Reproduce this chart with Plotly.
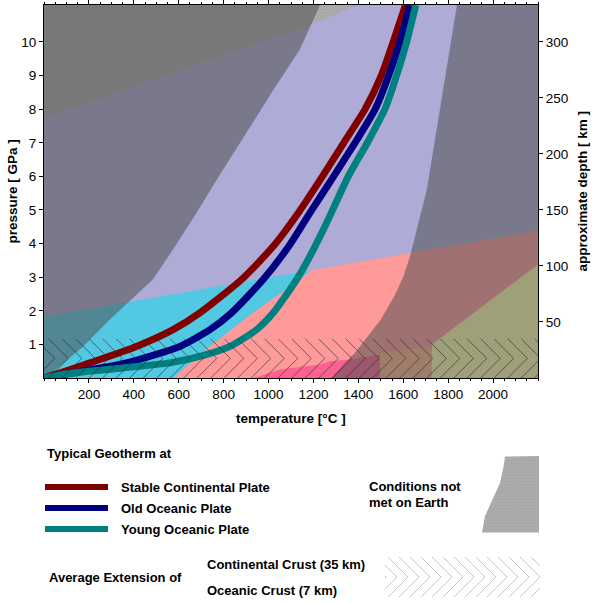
import plotly.graph_objects as go

# ---------------- data ----------------
T_RANGE = [0, 2200]          # temperature [°C]
P_RANGE = [0, 11.1]          # pressure [GPa]
KM_PER_GPA = 30.0            # approximate depth conversion

temp_ticks = [200, 400, 600, 800, 1000, 1200, 1400, 1600, 1800, 2000]
pressure_ticks = [1, 2, 3, 4, 5, 6, 7, 8, 9, 10]
depth_ticks = [50, 100, 150, 200, 250, 300]

# geotherms (temperature °C, pressure GPa)
stable_T = [0, 100, 204, 412, 575, 694, 880, 1021, 1133, 1240, 1335, 1430, 1502, 1555, 1610]
stable_P = [0, 0.21, 0.45, 0.94, 1.44, 1.94, 2.93, 3.92, 4.92, 6.0, 7.0, 8.0, 9.0, 10.0, 11.1]
old_T = [0, 128, 367, 605, 739, 835, 976, 1090, 1185, 1290, 1385, 1475, 1535, 1585, 1630]
old_P = [0, 0.15, 0.45, 0.94, 1.44, 1.94, 2.93, 3.92, 4.92, 6.0, 7.0, 8.0, 9.0, 10.0, 11.1]
young_T = [0, 128, 352, 560, 694, 828, 947, 1021, 1125, 1184, 1259, 1355, 1440, 1518, 1570, 1615, 1656]
young_P = [0, 0.15, 0.3, 0.45, 0.64, 0.94, 1.44, 1.94, 2.93, 3.62, 4.62, 6.0, 7.0, 8.0, 9.0, 10.0, 11.1]

# field boundaries
upper_line_T = [0, 2200]
upper_line_P = [1.82, 4.38]
cyan_salmon_T = [575, 739, 931, 1140, 1190]
cyan_salmon_P = [0, 0.94, 1.94, 2.93, 3.21]
pink_T = [930, 1051, 1229, 1273, 1363, 1497, 1497]
pink_P = [0, 0.25, 0.4, 0.5, 0.55, 0.69, 0]
peach_T = [1497, 1497, 1727, 1727]
peach_P = [0, 0.74, 0.94, 0]
yellow_T = [1727, 1727, 2200, 2200]
yellow_P = [0, 1.0, 3.38, 0]
left_T = [8, 70, 173, 293, 373, 485, 583, 681, 770, 881, 1015, 1140, 1229]
left_P = [0, 0.34, 0.93, 1.74, 2.24, 2.93, 3.91, 4.93, 5.91, 7.1, 8.5, 9.78, 11.1]
right_T = [1280, 1340, 1385, 1430, 1500, 1560, 1601, 1630, 1668, 1705, 1734, 1771, 1809, 1839]
right_P = [0, 0.45, 0.75, 1.14, 1.74, 2.43, 3.03, 3.62, 4.62, 5.61, 6.8, 8.29, 9.78, 11.1]
notmet_T = [0, 1142, 1403]
notmet_P = [7.75, 10.39, 11.1]

continental_crust_km = 35
oceanic_crust_km = 7

# ---------------- layout geometry ----------------
W, H = 592, 604
PL, PR, PT, PB = 44, 538, 5, 378      # plot area in px
FONT = "Liberation Sans, Arial, sans-serif"

C_LAV = "#aeacd6"
C_CYAN = "#52c8e2"
C_SALMON = "#ff9a9a"
C_PINK = "#ff6092"
C_PEACH = "#ffb48a"
C_YELLOW = "#ffffad"
C_NOTMET = "#ababab"
C_SHADE = "rgba(80,80,80,0.55)"
C_RED, C_BLUE, C_TEAL = "#800000", "#000080", "#008080"

fig = go.Figure()


def poly(T, P, color, pattern=None):
    kw = dict(x=T, y=P, mode="lines", fill="toself", fillcolor=color,
              line=dict(width=0, color=color), hoverinfo="skip", showlegend=False)
    if pattern:
        kw["fillpattern"] = pattern
    fig.add_trace(go.Scatter(**kw))


t0, t1 = T_RANGE
p0, p1 = P_RANGE
# base (upper) field
poly([t0, t1, t1, t0], [p0, p0, p1, p1], C_LAV)
# cyan field
poly([t0, t0, cyan_salmon_T[-1]] + cyan_salmon_T[::-1],
     [p0, upper_line_P[0], cyan_salmon_P[-1]] + cyan_salmon_P[::-1], C_CYAN)
# salmon field
poly(cyan_salmon_T + [upper_line_T[1], t1],
     cyan_salmon_P + [upper_line_P[1], p0], C_SALMON)
poly(pink_T, pink_P, C_PINK)
poly(peach_T, peach_P, C_PEACH)
poly(yellow_T, yellow_P, C_YELLOW)
# conditions not met on earth
stipple = dict(shape=".", size=3, solidity=0.25, fgcolor="#9b9b9b", bgcolor=C_NOTMET)
poly(notmet_T + [t0], notmet_P + [p1], C_NOTMET, stipple)
# shaded (outside the band)
poly(left_T + [t0, t0], left_P + [p1, p0], C_SHADE)
poly(right_T + [t1, t1], right_P + [p1, p0], C_SHADE)

# crust hatching (chevrons) on the depth axis
px_per_C = (PR - PL) / (t1 - t0)
px_per_km = (PB - PT) / (p1 * KM_PER_GPA)
C_per_km = px_per_km / px_per_C
step_C = 13.5 / px_per_C
mid_km = continental_crust_km / 2.0
hx, hy = [], []
T = t0 - 400
while T < t1 + 200:
    hx += [T, T + mid_km * C_per_km, T, None]
    hy += [continental_crust_km, mid_km, 0, None]
    T += step_C
fig.add_trace(go.Scatter(x=hx, y=hy, yaxis="y2", mode="lines",
                         line=dict(color="rgba(40,40,40,0.6)", width=1),
                         hoverinfo="skip", showlegend=False))

# geotherms
for Tv, Pv, c in [(stable_T, stable_P, C_RED), (old_T, old_P, C_BLUE), (young_T, young_P, C_TEAL)]:
    fig.add_trace(go.Scatter(x=Tv, y=Pv, mode="lines",
                             line=dict(color=c, width=7, shape="spline", smoothing=0.6),
                             hoverinfo="skip", showlegend=False))

# ---------------- legend area (pixel coordinates on x3/y3) ----------------
def lg_line(x0, x1, y, color):
    fig.add_trace(go.Scatter(x=[x0, x1], y=[y, y], xaxis="x3", yaxis="y3", mode="lines",
                             line=dict(color=color, width=6), hoverinfo="skip", showlegend=False))


lg_line(45, 108, 487, C_RED)
lg_line(45, 108, 508, C_BLUE)
lg_line(45, 108, 529, C_TEAL)

# not-met swatch
sw_x = [505, 539, 539, 482, 485, 493, 500, 503.5, 505]
sw_y = [456.5, 456, 532.5, 532.5, 516, 498, 483, 467, 456.5]
fig.add_trace(go.Scatter(x=sw_x, y=sw_y, xaxis="x3", yaxis="y3", mode="lines", fill="toself",
                         fillcolor=C_NOTMET, fillpattern=stipple, line=dict(width=0, color=C_NOTMET),
                         hoverinfo="skip", showlegend=False))

# crust hatch swatch
bx0, bx1, by0, bym, by1 = 385, 540, 557, 577, 597
lx, ly = [], []


def clip_seg(xa, ya, xb, yb):
    if xa > xb:
        xa, ya, xb, yb = xb, yb, xa, ya
    if xb < bx0 or xa > bx1:
        return
    if xa < bx0:
        ya = ya + (yb - ya) * (bx0 - xa) / (xb - xa)
        xa = bx0
    if xb > bx1:
        yb = ya + (yb - ya) * (bx1 - xa) / (xb - xa)
        xb = bx1
    lx.extend([xa, xb, None])
    ly.extend([ya, yb, None])


xx = bx0 - 30
while xx < bx1 + 5:
    clip_seg(xx, by0, xx + (bym - by0), bym)
    clip_seg(xx + (bym - by0), bym, xx, by1)
    xx += 11
fig.add_trace(go.Scatter(x=lx, y=ly, xaxis="x3", yaxis="y3", mode="lines",
                         line=dict(color="rgba(0,0,0,0.22)", width=1),
                         hoverinfo="skip", showlegend=False))

ann = []


def text(x, y, s, xanchor="left", angle=0, size=13):
    ann.append(dict(x=x, y=y, xref="x3", yref="y3", text="<b>%s</b>" % s, showarrow=False,
                    xanchor=xanchor, yanchor="middle", textangle=angle,
                    font=dict(family=FONT, size=size, color="black")))


text(45, 453, "Typical Geotherm at")
text(119, 487, "Stable Continental Plate")
text(119, 508, "Old Oceanic Plate")
text(119, 529, "Young Oceanic Plate")
text(367, 486, "Conditions not")
text(367, 502, "met on Earth")
text(47, 577, "Average Extension of")
text(205, 564, "Continental Crust (%d km)" % continental_crust_km)
text(205, 590, "Oceanic Crust (%d km)" % oceanic_crust_km)
# axis titles
text((PL + PR) / 2, 418, "temperature [°C ]", xanchor="center", size=13.5)
text(12, (PT + PB) / 2, "pressure [ GPa ]", xanchor="center", angle=-90, size=13.5)
text(582, (PT + PB) / 2, "approximate depth [ km ]", xanchor="center", angle=-90, size=13.5)

tickfont = dict(family=FONT, size=13.5, color="black")
axis_common = dict(showgrid=False, zeroline=False, showline=True, linecolor="black", linewidth=1,
                   ticks="outside", ticklen=4, tickcolor="black", tickfont=tickfont)

fig.update_layout(
    width=W, height=H, margin=dict(l=0, r=0, t=0, b=0),
    paper_bgcolor="white", plot_bgcolor="rgba(0,0,0,0)",
    font=dict(family=FONT, size=13, color="black"),
    annotations=ann,
    xaxis=dict(domain=[PL / W, PR / W], range=T_RANGE, tickvals=temp_ticks, mirror="ticks",
               minor=dict(dtick=50, ticks="outside", ticklen=2, tickcolor="black"),
               anchor="y", **axis_common),
    yaxis=dict(domain=[1 - PB / H, 1 - PT / H], range=P_RANGE, tickvals=pressure_ticks,
               anchor="x", **axis_common),
    yaxis2=dict(overlaying="y", side="right", anchor="x",
                range=[p0 * KM_PER_GPA, p1 * KM_PER_GPA], tickvals=depth_ticks, **axis_common),
    xaxis3=dict(domain=[0, 1], range=[0, W], visible=False, anchor="y3", fixedrange=True),
    yaxis3=dict(domain=[0, 1], range=[H, 0], visible=False, anchor="x3", fixedrange=True),
)

fig.write_html("out.html", config={"displayModeBar": False},
               post_script="document.body.style.margin='0';")
